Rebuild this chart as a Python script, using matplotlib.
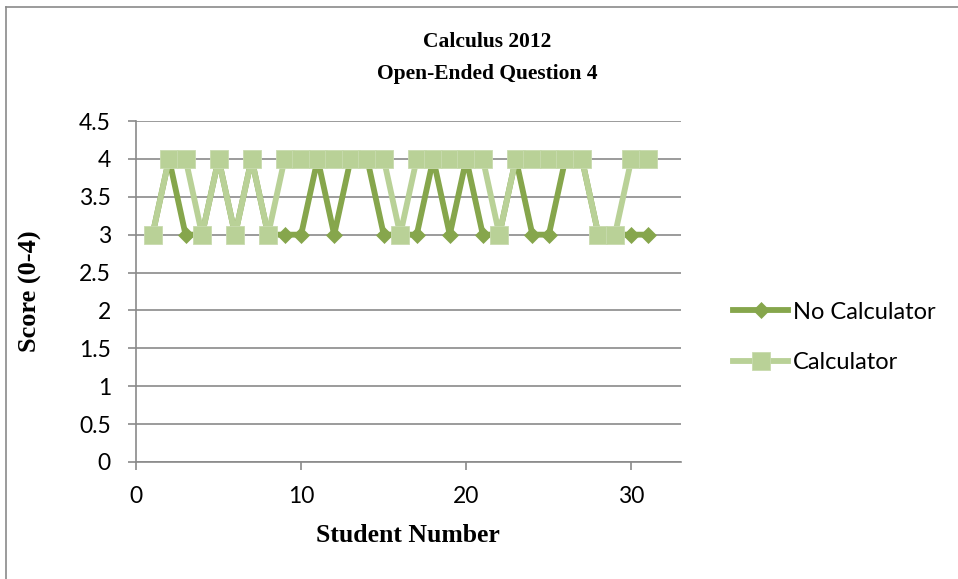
import matplotlib
matplotlib.use("Agg")
import matplotlib.pyplot as plt
from matplotlib.lines import Line2D

# Scores per student (0-4 scale)
students = list(range(1, 32))
no_calculator = [3, 4, 3, 3, 4, 3, 4, 3, 3, 3, 4, 3, 4, 4, 3, 3,
                 3, 4, 3, 4, 3, 3, 4, 3, 3, 4, 4, 3, 3, 3, 3]
calculator = [3, 4, 4, 3, 4, 3, 4, 3, 4, 4, 4, 4, 4, 4, 4, 3,
              4, 4, 4, 4, 4, 3, 4, 4, 4, 4, 4, 3, 3, 4, 4]

x_ticks = [0, 10, 20, 30]
y_ticks = [0, 0.5, 1, 1.5, 2, 2.5, 3, 3.5, 4, 4.5]
y_tick_labels = ["0", "0.5", "1", "1.5", "2", "2.5", "3", "3.5", "4", "4.5"]

DARK = "#86A64C"
LIGHT = "#B9D197"
GRID = "#8A8A8A"
SANS = ["Lato", "DejaVu Sans"]
SERIF = ["Liberation Serif", "DejaVu Serif"]

W, H = 958, 579
fig = plt.figure(figsize=(W / 100, H / 100), dpi=100)

# outer chart border (top and left edges)
fig.add_artist(Line2D([6 / W, 6 / W], [0, 1 - 7 / H], transform=fig.transFigure,
                      color=GRID, lw=1.2))
fig.add_artist(Line2D([6 / W, 1], [1 - 7 / H, 1 - 7 / H], transform=fig.transFigure,
                      color=GRID, lw=1.2))

ax = fig.add_axes([136 / W, 1 - 462 / H, (681 - 136) / W, (462 - 121) / H])

ax.plot(students, no_calculator, color=DARK, lw=4.2, marker="D", ms=8.5,
        mfc=DARK, mec=DARK, mew=0.5, zorder=3, label="No Calculator")
ax.plot(students, calculator, color=LIGHT, lw=4.2, marker="s", ms=13.5,
        mfc=LIGHT, mec="#C8DBAE", mew=0.6, zorder=4, label="Calculator")

ax.set_xlim(0, 33)
ax.set_ylim(0, 4.5)
ax.set_xticks(x_ticks)
ax.set_yticks(y_ticks)
ax.set_yticklabels(y_tick_labels)
ax.yaxis.grid(True, color=GRID, lw=1.2, zorder=0)
ax.set_axisbelow(True)
for s in ("top", "right"):
    ax.spines[s].set_visible(False)
for s in ("left", "bottom"):
    ax.spines[s].set_color(GRID)
    ax.spines[s].set_linewidth(1.2)
ax.tick_params(axis="both", direction="out", length=6, width=1.2, color=GRID,
               labelsize=16.5, labelcolor="black")
ax.tick_params(axis="y", pad=12)
ax.tick_params(axis="x", pad=11)
for lab in ax.get_xticklabels() + ax.get_yticklabels():
    lab.set_family(SANS)

fig.text(487 / W, 1 - 58 / H, "Calculus 2012\nOpen-Ended Question 4",
         ha="center", va="center", fontsize=15.5, fontweight="bold",
         family=SERIF, linespacing=1.75)
fig.text(408 / W, 1 - 535 / H, "Student Number", ha="center", va="center",
         fontsize=18.5, fontweight="bold", family=SERIF)
fig.text(30 / W, 1 - 291 / H, "Score (0-4)", ha="center", va="center",
         rotation=90, fontsize=19, fontweight="bold", family=SERIF)

leg = ax.legend(loc="center left", bbox_to_anchor=(733 / W, 1 - 337.5 / H),
                bbox_transform=fig.transFigure, frameon=False,
                prop={"family": SANS, "size": 17}, handlelength=2.35,
                handletextpad=0.2, labelspacing=1.25, borderpad=0,
                borderaxespad=0)

fig.savefig("out.png", dpi=100, facecolor="white")
